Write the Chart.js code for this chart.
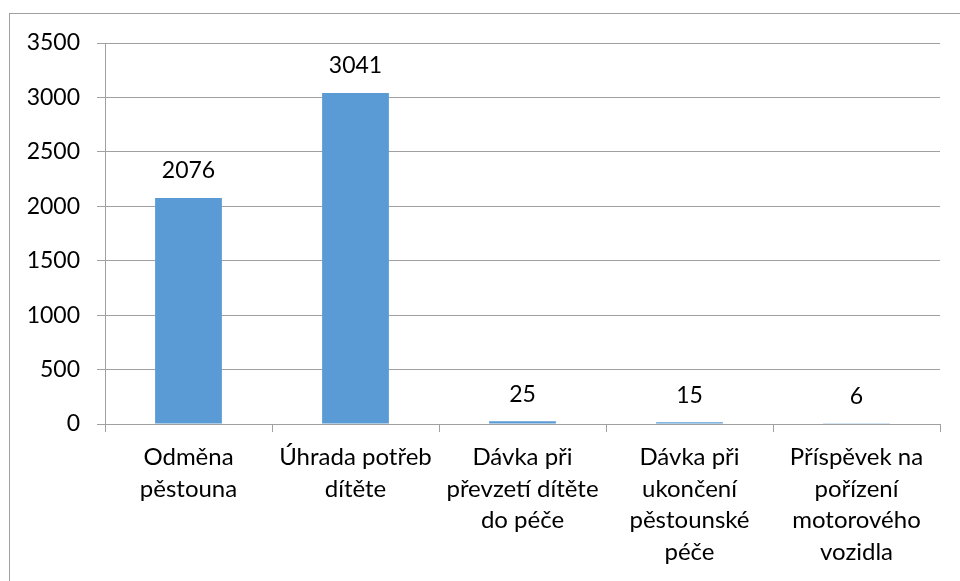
<!DOCTYPE html>
<html>
<head>
<meta charset="utf-8">
<script src="https://cdn.jsdelivr.net/npm/chart.js@4"></script>
<style>
  html, body { margin: 0; padding: 0; background: #fff; }
  canvas { display: block; }
</style>
</head>
<body>
<canvas id="chart" width="960" height="581"></canvas>
<script>
const categories = [
  ["Odměna", "pěstouna"],
  ["Úhrada potřeb", "dítěte"],
  ["Dávka při", "převzetí dítěte", "do péče"],
  ["Dávka při", "ukončení", "pěstounské", "péče"],
  ["Příspěvek na", "pořízení", "motorového", "vozidla"]
];
const values = [2076, 3041, 25, 15, 6];
const yTicks = [0, 500, 1000, 1500, 2000, 2500, 3000, 3500];

const gridColor = "#a0a0a0";
const fontFamily = "Lato, 'Open Sans', sans-serif";

// frame around the whole chart (cut off right and bottom like the source)
const framePlugin = {
  id: "frame",
  beforeDraw(chart) {
    const ctx = chart.ctx;
    ctx.save();
    ctx.strokeStyle = gridColor;
    ctx.lineWidth = 1;
    ctx.strokeRect(9.5, 13.5, 1000, 1000);
    ctx.restore();
  }
};

// value labels above bars
const valueLabels = {
  id: "valueLabels",
  afterDatasetsDraw(chart) {
    const ctx = chart.ctx;
    const meta = chart.getDatasetMeta(0);
    ctx.save();
    ctx.fillStyle = "#000";
    ctx.font = "23px " + fontFamily;
    ctx.textAlign = "center";
    ctx.textBaseline = "middle";
    meta.data.forEach((bar, i) => {
      ctx.fillText(String(values[i]), bar.x, bar.y - 27);
    });
    ctx.restore();
  }
};

new Chart(document.getElementById("chart"), {
  type: "bar",
  data: {
    labels: categories,
    datasets: [{
      data: values,
      backgroundColor: "#5b9bd5",
      borderWidth: 0,
      barPercentage: 0.4,
      categoryPercentage: 1
    }]
  },
  options: {
    responsive: false,
    animation: false,
    layout: { padding: { left: 0, top: 43, right: 20, bottom: 0 } },
    plugins: {
      legend: { display: false },
      tooltip: { enabled: false }
    },
    scales: {
      x: {
        grid: {
          display: true,
          drawOnChartArea: false,
          drawTicks: true,
          tickLength: 8,
          color: gridColor,
          offset: true
        },
        border: { color: gridColor },
        ticks: {
          color: "#000",
          padding: 10,
          maxRotation: 0,
          autoSkip: false,
          font: { family: fontFamily, size: 24, lineHeight: 1.31 }
        },
        afterFit(scale) { scale.height = 157; }
      },
      y: {
        min: 0,
        max: 3500,
        afterBuildTicks(scale) { scale.ticks = yTicks.map(v => ({ value: v })); },
        grid: {
          color: gridColor,
          tickLength: 8,
          drawTicks: true
        },
        border: { color: gridColor },
        ticks: {
          color: "#000",
          padding: 17,
          callback: v => String(v),
          font: { family: fontFamily, size: 23 }
        },
        afterFit(scale) { scale.width = 105; }
      }
    }
  },
  plugins: [framePlugin, valueLabels]
});
</script>
</body>
</html>
